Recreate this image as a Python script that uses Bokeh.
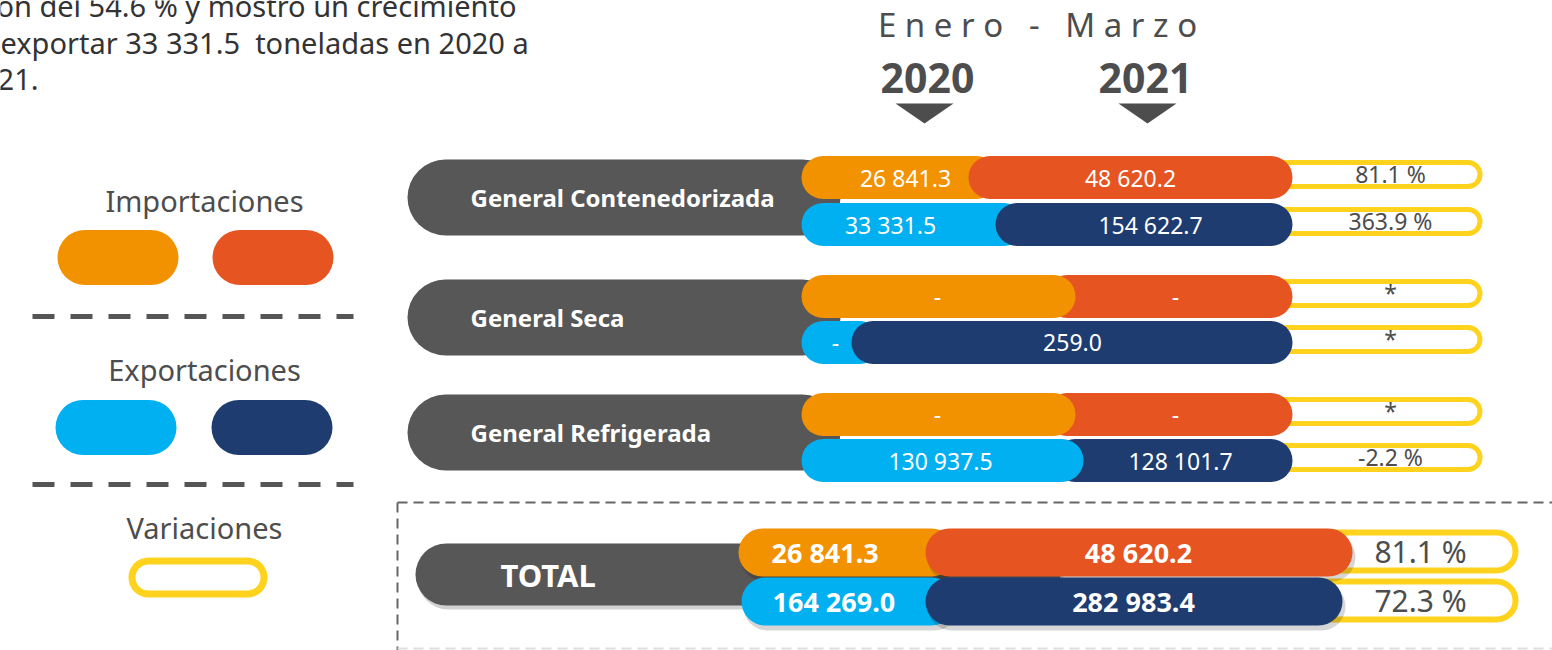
from bokeh.plotting import figure
from bokeh.models import Range1d
from bokeh.core.properties import value
from bokeh.embed import file_html
from bokeh.resources import INLINE

# ---------------- data ----------------
intro_lines = ["ón del 54.6 % y mostró un crecimiento",
               "exportar 33 331.5\u00a0 toneladas en 2020 a",
               "2021."]
period_label = "E n e r o\u00a0\u00a0\u00a0-\u00a0\u00a0\u00a0M a r z o"
years = ["2020", "2021"]
legend_labels = ["Importaciones", "Exportaciones", "Variaciones"]
categories = ["General Contenedorizada", "General Seca", "General Refrigerada"]
imp_2020 = [26841.3, None, None]
imp_2021 = [48620.2, None, None]
exp_2020 = [33331.5, None, 130937.5]
exp_2021 = [154622.7, 259.0, 128101.7]
var_imp = [81.1, None, None]
var_exp = [363.9, None, -2.2]
total_label = "TOTAL"
total_2020 = [26841.3, 164269.0]   # importaciones, exportaciones
total_2021 = [48620.2, 282983.4]
total_var = [81.1, 72.3]

# ---------------- styles / layout ----------------
FONT = value("Noto Sans")
C_IMP = ["#F39200", "#E55421"]
C_EXP = ["#00B0F0", "#1E3C70"]
C_VAR = "#FFD21E"
C_GRAY = "#575757"
C_TXT = "#4D4D4D"

W, H = 1552, 650

p = figure(width=W, height=H, x_range=Range1d(0, W), y_range=Range1d(H, 0),
           output_backend="svg", toolbar_location=None, x_axis_location=None,
           y_axis_location=None, min_border=0)
p.grid.visible = False
p.outline_line_color = None
p.background_fill_color = "white"
p.border_fill_color = "white"


def pill(x0, x1, y, h, color, alpha=1.0):
    r = h / 2
    p.segment(x0=[x0 + r], y0=[y], x1=[x1 - r], y1=[y], line_width=h,
              line_color=color, line_cap="round", line_alpha=alpha)


def outline_pill(x0, x1, y, h, stroke):
    pill(x0, x1, y, h, C_VAR)
    pill(x0 + stroke, x1 - stroke, y, h - 2 * stroke, "white")


def label(x, y, txt, size, color="white", align="center", bold=False):
    p.text(x=[x], y=[y], text=[txt], text_font=FONT, text_font_size=f"{size}px",
           text_color=color, text_align=align, text_baseline="middle",
           text_font_style="bold" if bold else "normal")


def fmt(v):
    return "-" if v is None else f"{v:,.1f}".replace(",", " ")


def fmt_var(v):
    return "*" if v is None else f"{v:.1f} %"


def key(v):
    return -1 if v is None else v


def pair(v20, v21, left, right, boundary, y, h, colors, size, tx20, tx21,
         bold=False, shadow=False, overlap=30, align20="center"):
    front21 = key(v21) > key(v20)
    if front21:
        seg20 = (left, boundary + overlap)
        seg21 = (boundary, right)
    else:
        seg20 = (left, boundary)
        seg21 = (boundary - overlap, right)
    order = [(seg20, colors[0]), (seg21, colors[1])]
    if not front21:
        order = order[::-1]
    for (a, b), c in order:
        if shadow:
            pill(a + 2, b + 3, y + 5, h, "#000000", 0.16)
        pill(a, b, y, h, c)
    label(tx20, y, fmt(v20), size, bold=bold, align=align20)
    label(tx21, y, fmt(v21), size, bold=bold)


# ---------------- intro text (cropped in the reference) ----------------
intro_y = [5, 42, 79]
label(516, intro_y[0], intro_lines[0], 29, "#333333", "right")
label(0, intro_y[1], intro_lines[1], 29, "#333333", "left")
label(38, intro_y[2], intro_lines[2], 29, "#333333", "right")

# ---------------- header ----------------
label(1037, 24, period_label, 33, C_TXT)
year_x = [927, 1145]
tri_x = [924, 1147]
for yx, tx, yr in zip(year_x, tri_x, years):
    label(yx, 77, yr, 41, C_TXT, bold=True)
    p.patches(xs=[[tx - 29, tx + 29, tx]], ys=[[103, 103, 123]], fill_color=C_TXT, line_color=None)

# ---------------- legend ----------------
label(204, 200, legend_labels[0], 29, C_TXT)
pill(57, 178, 257, 55, C_IMP[0])
pill(212, 333, 257, 55, C_IMP[1])
p.segment(x0=[32, 32], y0=[316, 484], x1=[353, 353], y1=[316, 484], line_width=5,
          line_color="#555555", line_dash="22 16")
label(204, 369, legend_labels[1], 29, C_TXT)
pill(55, 176, 427, 55, C_EXP[0])
pill(211, 332, 427, 55, C_EXP[1])
label(204, 527, legend_labels[2], 29, C_TXT)
outline_pill(128, 267, 577, 40, 7)

# ---------------- category groups ----------------
gray_y = [197, 317, 432]
imp_y = [177, 296, 414]
exp_y = [224, 342, 460]
bnd_imp = [968, 1075, 1075]
bnd_exp = [995, 851, 1083]
tx_imp = [(905, 1130), (937, 1175), (937, 1175)]
tx_exp = [(890, 1150), (835, 1072), (940, 1180)]
BAR_L, BAR_R, BAR_H = 801, 1292, 43
VAR_L, VAR_R, VAR_H = 1250, 1482, 29

for i, cat in enumerate(categories):
    pill(407, 840, gray_y[i], 76, C_GRAY)
    label(470, gray_y[i], cat, 24, bold=True, align="left")
    for y, v20, v21, bnd, cols, vv, tx in (
            (imp_y[i], imp_2020[i], imp_2021[i], bnd_imp[i], C_IMP, var_imp[i], tx_imp[i]),
            (exp_y[i], exp_2020[i], exp_2021[i], bnd_exp[i], C_EXP, var_exp[i], tx_exp[i])):
        outline_pill(VAR_L, VAR_R, y - 3, VAR_H, 5)
        label(1390, y - 4, fmt_var(vv), 23, C_TXT)
        pair(v20, v21, BAR_L, BAR_R, bnd, y, BAR_H, cols, 23, tx[0], tx[1])

# ---------------- total box ----------------
p.segment(x0=[397, 397], y0=[502, 502], x1=[1560, 397], y1=[502, 660], line_width=2,
          line_color="#666666", line_dash="10 6")
p.segment(x0=[397], y0=[648], x1=[1560], y1=[648], line_width=2,
          line_color="#DDDDDD", line_dash="10 6")

pill(417, 1063, 578, 62, "#000000", 0.18)
pill(415, 1060, 574, 62, C_GRAY)
label(500, 574, total_label, 31, bold=True, align="left")

tot_y = [552, 601]
tot_left = [738, 741]
tot_right = [1352, 1342]
tot_bnd = [925, 925]
tot_tx = [(771, 1138), (772, 1133)]
for j in range(2):
    outline_pill(1290, 1518, tot_y[j] - 1, 44, 6)
    label(1420, tot_y[j] - 1, fmt_var(total_var[j]), 30, C_TXT)
for j, cols in enumerate((C_IMP, C_EXP)):
    pair(total_2020[j], total_2021[j], tot_left[j], tot_right[j], tot_bnd[j], tot_y[j], 48,
         cols, 27, tot_tx[j][0], tot_tx[j][1], bold=True, shadow=True, align20="left")

open("out.html", "w").write(file_html(p, INLINE))
